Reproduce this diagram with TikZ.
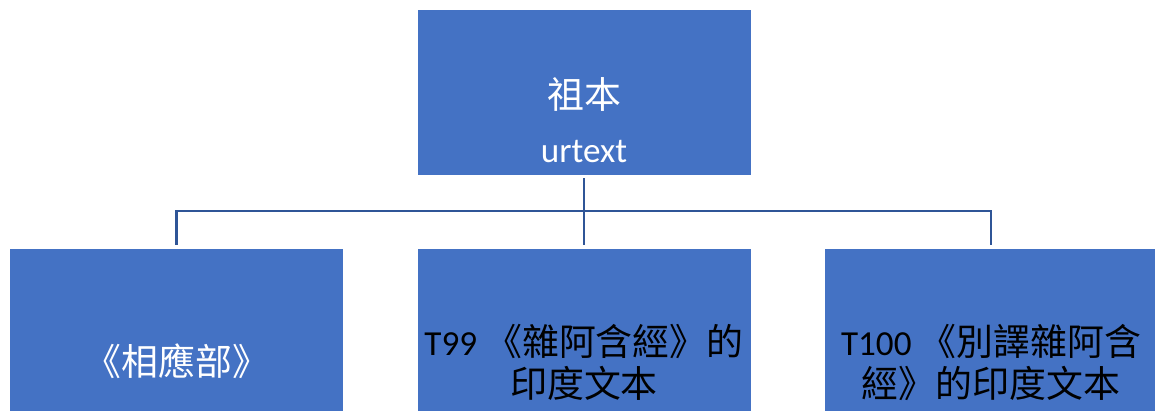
\documentclass[tikz,border=0pt]{standalone}
\usepackage{fontspec}
\setmainfont{Carlito}
\newfontfamily\cjk[Scale=1.05]{Noto Sans CJK TC}
\usetikzlibrary{positioning}
\definecolor{boxblue}{HTML}{4472C4}
\definecolor{linkblue}{HTML}{2F5597}
\tikzset{
  box/.style={fill=boxblue, draw=white, line width=0.4pt, minimum width=6.68cm, minimum height=3.32cm, inner sep=0pt},
  link/.style={draw=linkblue, line width=1.2pt, shorten <=0.06cm, shorten >=0.06cm},
  lbl/.style={font=\fontsize{20}{24}\selectfont, align=center, inner sep=0pt}
}

\begin{document}
\begin{tikzpicture}
\useasboundingbox (0,0) rectangle (23.1,-8.2);
\clip (0,0) rectangle (23.1,-8.2);
\coordinate (T) at (11.68,-1.84);
\coordinate (L) at (3.53,-6.62);
\coordinate (M) at (11.68,-6.62);
\coordinate (R) at (19.82,-6.62);
\node[box] (zu) at (T) {};
\node[box] (xiang) at (L) {};
\node[box] (za) at (M) {};
\node[box] (bie) at (R) {};
% connectors
\draw[link] (zu.south) -- (za.north);
\draw[link] (xiang.north) -- ++(0,0.73) -| (bie.north);
% texts
\node[lbl, white] (zuTxt) at (11.68,-1.89) {\cjk 祖本};
\node[lbl, white, anchor=base] (urTxt) at (11.68,-3.26) {urtext};
\node[lbl, white] (xiangTxt) at (3.54,-7.22) {\cjk 《相應部》};
\node[lbl, black] (zaTxt) at (11.68,-7.24) {T99 {\cjk 《雜阿含經》的}\\{\cjk 印度文本}};
\node[lbl, black] (bieTxt) at (19.82,-7.25) {T100 {\cjk 《別譯雜阿含}\\{\cjk 經》的印度文本}};
\end{tikzpicture}
\end{document}
